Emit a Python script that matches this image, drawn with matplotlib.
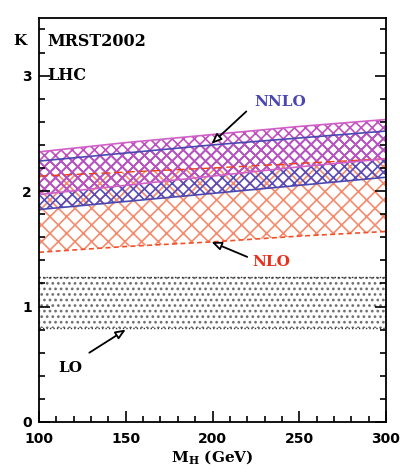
import matplotlib
matplotlib.use("Agg")
import matplotlib.pyplot as plt
import numpy as np

# ---- data ----
mh = [100, 150, 200, 250, 300]
nnlo_mag_hi = [2.34, 2.42, 2.49, 2.56, 2.62]
nnlo_mag_lo = [1.97, 2.05, 2.13, 2.21, 2.28]
nnlo_blue_hi = [2.26, 2.33, 2.40, 2.46, 2.52]
nnlo_blue_lo = [1.84, 1.91, 1.98, 2.05, 2.12]
nlo_hi = [2.13, 2.165, 2.20, 2.24, 2.28]
nlo_lo = [1.47, 1.52, 1.56, 1.61, 1.65]
lo_hi = [1.26, 1.26, 1.26, 1.26, 1.26]
lo_lo = [0.81, 0.81, 0.81, 0.81, 0.81]
xticks = [100, 150, 200, 250, 300]
yticks = [0, 1, 2, 3]

plt.rcParams['hatch.linewidth'] = 1.2
plt.rcParams['mathtext.fontset'] = 'dejavuserif'
serif = ['DejaVu Serif']
fig = plt.figure(figsize=(4.0, 4.72), dpi=100)
ax = fig.add_axes([0.0975, 0.106, 0.8675, 0.856])

# LO band (dotted)
ax.fill_between(mh, lo_lo, lo_hi, facecolor='none', edgecolor='#555555',
                hatch='...', linewidth=0, alpha=0.8)
ax.plot(mh, lo_hi, color='#333333', ls=(0, (1, 1.5)), lw=1)
ax.plot(mh, lo_lo, color='#333333', ls=(0, (1, 1.5)), lw=1)

# NLO band (orange-red)
ax.fill_between(mh, nlo_lo, nlo_hi, facecolor='none', edgecolor='#f05a30',
                hatch='xx', linewidth=0, alpha=0.7)
ax.plot(mh, nlo_hi, color='#e8401c', ls=(0, (6, 3)), lw=1)
ax.plot(mh, nlo_lo, color='#f0502a', ls=(0, (3, 2)), lw=1.2)

# NNLO blue band
ax.fill_between(mh, nnlo_blue_lo, nnlo_blue_hi, facecolor='none', edgecolor='#5a4cb8',
                hatch='xxx', linewidth=0)
ax.plot(mh, nnlo_blue_hi, color='#4a48b0', lw=1.2)
ax.plot(mh, nnlo_blue_lo, color='#4a48b0', lw=1.2)

# NNLO magenta band
ax.fill_between(mh, nnlo_mag_lo, nnlo_mag_hi, facecolor='none', edgecolor='#c050c0',
                hatch='xxx', linewidth=0)
ax.plot(mh, nnlo_mag_hi, color='#d060c8', lw=1.2)
ax.plot(mh, nnlo_mag_lo, color='#d060c8', lw=1.2)

ax.set_xlim(100, 300)
ax.set_ylim(0, 3.5)
ax.set_xticks(xticks)
ax.set_yticks(yticks)
ax.set_xticks(np.arange(100, 301, 10), minor=True)
ax.set_yticks(np.arange(0, 3.51, 0.2), minor=True)
ax.tick_params(which='both', direction='in', top=False, right=True, width=1.2)
ax.tick_params(which='major', length=8, labelsize=10)
ax.tick_params(axis='x', which='major', pad=7)
ax.tick_params(axis='y', which='major', pad=5)
ax.tick_params(which='minor', length=4)
for lbl in ax.get_xticklabels() + ax.get_yticklabels():
    lbl.set_fontweight('bold')
for s in ax.spines.values():
    s.set_linewidth(1.3)

ax.text(-0.055, 0.943, 'K', transform=ax.transAxes, fontsize=11, fontweight='bold',
        family=serif, va='center', ha='center')
ax.text(105, 3.30, 'MRST2002', fontsize=11.5, fontweight='bold', family=serif, va='center')
ax.text(105, 3.00, 'LHC', fontsize=11.5, fontweight='bold', family=serif, va='center')
ax.set_xlabel(r'$\mathbf{M_H}$ (GeV)', fontsize=11, fontweight='bold', family=serif, labelpad=2)

arrowprops = dict(arrowstyle='-|>,head_length=0.6,head_width=0.25', color='black',
                  lw=1.3, fc='white', shrinkA=0, shrinkB=0)
ax.annotate('', xy=(199.4, 2.41), xytext=(219.5, 2.69), arrowprops=arrowprops)
ax.text(224, 2.77, 'NNLO', color='#4a48b0', fontsize=11, fontweight='bold', family=serif,
        va='center')
ax.annotate('', xy=(199.4, 1.56), xytext=(220, 1.43), arrowprops=arrowprops)
ax.text(223, 1.39, 'NLO', color='#e8301c', fontsize=11, fontweight='bold', family=serif,
        va='center')
ax.annotate('', xy=(150, 0.80), xytext=(129, 0.60), arrowprops=arrowprops)
ax.text(118, 0.47, 'LO', color='black', fontsize=11, fontweight='bold', family=serif,
        va='center', ha='center')

fig.savefig('out.png', dpi=100)
